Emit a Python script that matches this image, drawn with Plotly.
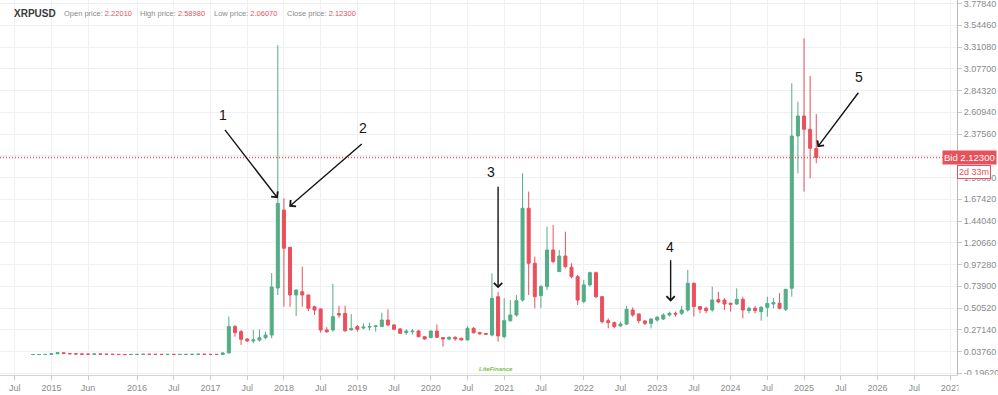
import plotly.graph_objects as go

# ---------------- data (monthly XRPUSD candles) ----------------
months = [
    "2014-08", "2014-09", "2014-10", "2014-11", "2014-12",
    "2015-01", "2015-02", "2015-03", "2015-04", "2015-05", "2015-06",
    "2015-07", "2015-08", "2015-09", "2015-10", "2015-11", "2015-12",
    "2016-01", "2016-02", "2016-03", "2016-04", "2016-05", "2016-06",
    "2016-07", "2016-08", "2016-09", "2016-10", "2016-11", "2016-12",
    "2017-01", "2017-02", "2017-03", "2017-04", "2017-05", "2017-06",
    "2017-07", "2017-08", "2017-09", "2017-10", "2017-11", "2017-12",
    "2018-01", "2018-02", "2018-03", "2018-04", "2018-05", "2018-06",
    "2018-07", "2018-08", "2018-09", "2018-10", "2018-11", "2018-12",
    "2019-01", "2019-02", "2019-03", "2019-04", "2019-05", "2019-06",
    "2019-07", "2019-08", "2019-09", "2019-10", "2019-11", "2019-12",
    "2020-01", "2020-02", "2020-03", "2020-04", "2020-05", "2020-06",
    "2020-07", "2020-08", "2020-09", "2020-10", "2020-11", "2020-12",
    "2021-01", "2021-02", "2021-03", "2021-04", "2021-05", "2021-06",
    "2021-07", "2021-08", "2021-09", "2021-10", "2021-11", "2021-12",
    "2022-01", "2022-02", "2022-03", "2022-04", "2022-05", "2022-06",
    "2022-07", "2022-08", "2022-09", "2022-10", "2022-11", "2022-12",
    "2023-01", "2023-02", "2023-03", "2023-04", "2023-05", "2023-06",
    "2023-07", "2023-08", "2023-09", "2023-10", "2023-11", "2023-12",
    "2024-01", "2024-02", "2024-03", "2024-04", "2024-05", "2024-06",
    "2024-07", "2024-08", "2024-09", "2024-10", "2024-11", "2024-12",
    "2025-01", "2025-02", "2025-03", "2025-04",
]

open_p = [
    .0050, .0052, .0055, .0062, .0130,
    .0240, .0160, .0130, .0110, .0090, .0080,
    .0110, .0085, .0075, .0065, .0050, .0045,
    .0060, .0062, .0080, .0070, .0065, .0060,
    .0065, .0060, .0062, .0063, .0075, .0085,
    .0065, .0063, .0062, .022, .305, .251,
    .172, .151, .161, .186, .215, .720,
    1.558, 1.158, .645, .680, .645, .519,
    .495, .270, .269, .445, .448, .270,
    .305, .290, .300, .305, .305, .376,
    .323, .280, .240, .250, .258, .197,
    .187, .258, .187, .172, .190, .180,
    .162, .287, .240, .232, .215, .627,
    .197, .369, .430, .591, 1.577, .986,
    .638, .735, 1.129, .896, 1.064, .943,
    .842, .574, .753, .885, .627, .369,
    .348, .312, .333, .484, .441, .366,
    .340, .376, .387, .430, .448, .448,
    .484, .770, .520, .502, .484, .595,
    .591, .556, .548, .598, .477, .502,
    .466, .512, .548, .556, .491, .717,
    2.354, 2.569, 2.426, 2.2201,
]

high_p = [
    .0058, .0060, .0070, .0140, .0270,
    .0260, .0165, .0135, .0115, .0095, .0120,
    .0110, .0090, .0080, .0068, .0052, .0065,
    .0078, .0090, .0090, .0075, .0070, .0070,
    .0068, .0064, .0066, .0080, .0095, .0090,
    .0070, .0070, .0300, .412, .323, .269,
    .180, .269, .276, .251, .881, 3.330,
    1.685, 1.160, .700, .949, .650, .530,
    .500, .300, .765, .530, .530, .440,
    .323, .340, .348, .323, .455, .491,
    .330, .290, .276, .280, .270, .200,
    .260, .330, .190, .200, .200, .185,
    .310, .300, .250, .235, .878, .680,
    .609, .591, .645, 1.953, 1.756, 1.057,
    .753, 1.380, 1.398, 1.129, 1.326, .986,
    .860, .806, .896, .896, .634, .394,
    .358, .358, .527, .512, .448, .376,
    .394, .420, .448, .466, .466, .527,
    .914, .780, .527, .520, .735, .681,
    .610, .563, .717, .627, .520, .527,
    .527, .627, .610, .663, .706, 2.920,
    2.723, 3.404, 3.000, 2.5898,
]

low_p = [
    .0045, .0048, .0050, .0060, .0120,
    .0140, .0120, .0105, .0080, .0075, .0080,
    .0082, .0070, .0062, .0045, .0040, .0043,
    .0055, .0060, .0065, .0060, .0055, .0055,
    .0058, .0056, .0058, .0060, .0070, .0062,
    .0060, .0058, .0060, .018, .197, .108,
    .140, .126, .144, .169, .179, .645,
    .519, .519, .419, .519, .470, .430,
    .240, .240, .250, .400, .250, .262,
    .251, .276, .262, .251, .300, .310,
    .270, .230, .215, .220, .190, .165,
    .180, .185, .090, .160, .155, .155,
    .158, .235, .220, .215, .200, .144,
    .179, .358, .412, .574, .645, .502,
    .502, .699, .986, .896, .932, .824,
    .538, .556, .735, .609, .340, .287,
    .287, .305, .322, .412, .340, .322,
    .287, .358, .376, .412, .412, .430,
    .466, .412, .448, .448, .466, .556,
    .484, .466, .538, .394, .448, .448,
    .369, .412, .502, .490, .473, .627,
    1.953, 1.756, 1.899, 2.0607,
]

close_p = [
    .0052, .0055, .0062, .0130, .0240,
    .0160, .0130, .0110, .0090, .0080, .0110,
    .0085, .0075, .0065, .0050, .0045, .0060,
    .0062, .0080, .0070, .0065, .0060, .0065,
    .0060, .0062, .0063, .0075, .0085, .0065,
    .0063, .0062, .0220, .305, .240, .169,
    .151, .162, .186, .215, .731, 1.630,
    1.147, .645, .699, .645, .502, .484,
    .269, .250, .412, .430, .260, .285,
    .276, .300, .305, .312, .376, .323,
    .276, .233, .258, .256, .197, .172,
    .258, .190, .172, .190, .173, .162,
    .287, .238, .228, .224, .609, .205,
    .369, .430, .584, 1.577, .986, .627,
    .735, 1.129, 1.004, 1.064, .950, .842,
    .591, .753, .885, .627, .358, .348,
    .305, .333, .491, .430, .369, .340,
    .387, .405, .430, .448, .440, .484,
    .770, .520, .491, .477, .591, .570,
    .548, .545, .598, .484, .502, .477,
    .512, .555, .563, .502, .706, 2.354,
    2.569, 2.426, 2.222, 2.1230,
]

# price-scale tick labels (right axis)
price_ticks = [-0.19620, 0.03760, 0.27140, 0.50520, 0.73900, 0.97280, 1.20660,
               1.44040, 1.67420, 1.90800, 2.14180, 2.37560, 2.60940, 2.84320,
               3.07700, 3.31080, 3.54460, 3.77840]

# time-scale tick labels and the bar (relative to Jan 2018) they sit on
time_tick_text = ["Jul", "2015", "Jun", "2016", "Jul", "2017", "Jul", "2018",
                  "Jul", "2019", "Jul", "2020", "Jul", "2021", "Jul", "2022",
                  "Jul", "2023", "Jul", "2024", "Jul", "2025", "Jul", "2026",
                  "Jul", "2027"]
time_tick_bar = [-44, -38, -32, -24, -18, -12, -6, 0, 6, 12, 18, 24, 30, 36,
                 42, 49, 55, 61, 67, 73, 79, 85, 91, 97, 103, 109]

bid_price = 2.12300
countdown = "2d 33m"
symbol = "XRPUSD"

# marked candles: label, bar (relative to Jan 2018), price at arrow tip
mark_labels = ["1", "2", "3", "4", "5"]
mark_bar = [-1.0, 0.87, 35.0, 63.2, 87.2]
mark_price = [1.684, 1.594, 0.717, 0.573, 2.233]

# ---------------- styling ----------------
GREEN = "#53ad86"
RED = "#e9505c"
GRID = "#eef0f3"
TXT = "#8a8a8a"
FONT = "Liberation Sans, Arial, sans-serif"
X_RANGE = [-46.4, 110.0]
Y_RANGE = [-0.215, 3.816]

anchor = months.index("2018-01")
x = [i - anchor for i in range(len(months))]

fig = go.Figure()
# bid price line (dotted, red) across the whole time scale
fig.add_trace(go.Scatter(
    x=X_RANGE, y=[bid_price, bid_price], mode="lines",
    line=dict(color="rgba(240,70,85,0.9)", width=1.5, dash="1px,2px"),
    hoverinfo="skip", showlegend=False))
fig.add_trace(go.Candlestick(
    x=x, open=open_p, high=high_p, low=low_p, close=close_p,
    text=months, hoverinfo="text+y",
    increasing=dict(line=dict(color=GREEN, width=1), fillcolor=GREEN),
    decreasing=dict(line=dict(color=RED, width=1), fillcolor=RED),
    whiskerwidth=0,
    showlegend=False,
))

W, H = 998, 395
ML, MR, MT, MB = 0, 41, 0, 20
PW, PH = W - ML - MR, H - MT - MB

def px_x(p):
    return p / PW

def px_y(p):
    return 1 - p / PH

annotations = []
# header
annotations.append(dict(x=px_x(12), y=px_y(14), xref="paper", yref="paper",
                        text=f"<b>{symbol}</b>", showarrow=False,
                        xanchor="left", yanchor="middle",
                        font=dict(size=10, color="#3a3a3a", family=FONT)))
hdr = [("Open price:", open_p[-1], 62), ("High price:", high_p[-1], 137.5),
       ("Low price:", low_p[-1], 212), ("Close price:", close_p[-1], 284.5)]
for name, val, xp in hdr:
    annotations.append(dict(
        x=px_x(xp), y=px_y(14), xref="paper", yref="paper", showarrow=False,
        xanchor="left", yanchor="middle",
        text=f"{name} <span style='color:{RED}'>{val:.5f}</span>",
        font=dict(size=7.5, color=TXT, family=FONT)))

# arrows + numbers
tails = [(-54, -70), (74, -64), (0, -103), (0, -43), (42, -56)]
num_off = [(-55, 83), (74, 79), (-7, 116), (-1, 55), (42, 70)]
for lab, bx, by, (ax, ay), (nx, ny) in zip(mark_labels, mark_bar, mark_price, tails, num_off):
    annotations.append(dict(x=bx, y=by, xref="x", yref="y", text="",
                            showarrow=True, ax=ax, ay=ay, arrowhead=4,
                            arrowsize=1.15, arrowwidth=1.4, arrowcolor="#141414",
                            standoff=0))
    annotations.append(dict(x=bx, y=by, xref="x", yref="y", text=lab,
                            showarrow=False, xshift=nx, yshift=ny,
                            font=dict(size=14, color="#141414", family=FONT)))

# bid label and countdown
annotations.append(dict(x=1, y=bid_price, xref="paper", yref="y",
                        text=f"Bid {bid_price:.5f}", showarrow=False,
                        xanchor="left", yanchor="middle", xshift=-15,
                        bgcolor=RED, borderpad=1,
                        font=dict(size=9.5, color="white", family=FONT)))
annotations.append(dict(x=1, y=bid_price, xref="paper", yref="y",
                        text=countdown, showarrow=False,
                        xanchor="left", yanchor="middle", xshift=0, yshift=-14,
                        bgcolor="white", bordercolor=RED, borderwidth=1, borderpad=1,
                        font=dict(size=9, color=RED, family=FONT)))
# watermark
annotations.append(dict(x=px_x(496), y=px_y(369), xref="paper", yref="paper",
                        text="<i><b>LiteFinance</b></i>", showarrow=False,
                        yanchor="middle",
                        font=dict(size=6, color="#7bbf4a", family=FONT)))

shapes = [
    dict(type="rect", xref="paper", x0=1.0015, x1=1.1, yref="paper", y0=-0.2, y1=0,
         fillcolor="white", line=dict(width=0), layer="above"),
]

fig.update_layout(
    width=W, height=H,
    margin=dict(l=ML, r=MR, t=MT, b=MB, pad=0),
    paper_bgcolor="white", plot_bgcolor="white",
    font=dict(family=FONT, size=9, color=TXT),
    annotations=annotations, shapes=shapes,
    hovermode="closest",
    xaxis=dict(
        range=X_RANGE, tickmode="array",
        tickvals=time_tick_bar, ticktext=time_tick_text,
        showgrid=True, gridcolor=GRID, gridwidth=1, zeroline=False,
        ticks="outside", ticklen=4, tickcolor="#c8c8c8",
        showline=True, linecolor="#d2d2d2", linewidth=1,
        tickfont=dict(size=9, color=TXT, family=FONT),
        rangeslider=dict(visible=False), fixedrange=True,
    ),
    yaxis=dict(
        side="right", range=Y_RANGE, tickmode="array",
        tickvals=price_ticks, ticktext=[f"{v:.5f}" for v in price_ticks],
        showgrid=True, gridcolor=GRID, gridwidth=1, zeroline=False,
        ticks="outside", ticklen=4, tickcolor="#c8c8c8",
        showline=True, linecolor="#b8b8b8", linewidth=1,
        ticklabeloverflow="allow",
        tickfont=dict(size=9, color=TXT, family=FONT), fixedrange=True,
    ),
)

fig.write_html("out.html", config={"displayModeBar": False},
               post_script="document.body.style.margin='0';")
